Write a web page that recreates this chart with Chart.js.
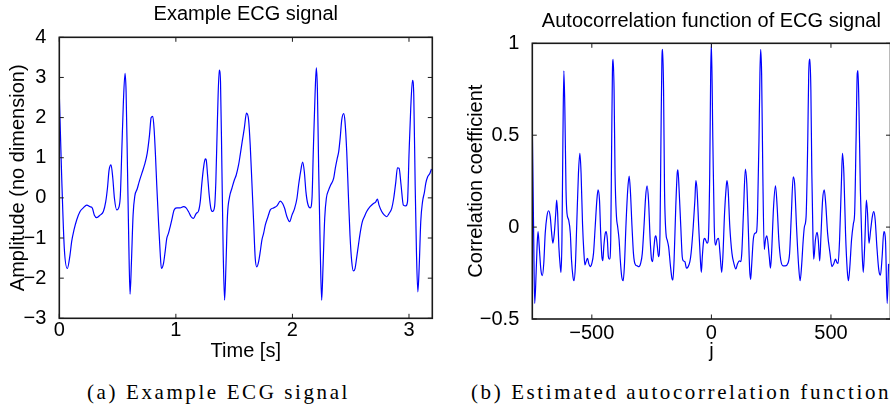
<!DOCTYPE html>
<html>
<head>
<meta charset="utf-8">
<script src="https://cdn.jsdelivr.net/npm/chart.js@4.4.1/dist/chart.umd.min.js"></script>
<style>
  html, body { margin: 0; padding: 0; background: #fff; }
  body { width: 890px; height: 410px; position: relative; overflow: hidden; }
  canvas { position: absolute; top: 0; }
  #ecgChart { left: 0; }
  #acfChart { left: 445px; }
  .caption {
    position: absolute; top: 382px; color: #000; white-space: nowrap;
    font-family: "Liberation Serif", "DejaVu Serif", serif;
    font-size: 21px; line-height: 21px; letter-spacing: 2.6px;
  }
</style>
</head>
<body>
<canvas id="ecgChart" width="445" height="370"></canvas>
<canvas id="acfChart" width="450" height="370"></canvas>
<div class="caption" style="left:87px">(a) Example ECG signal</div>
<div class="caption" style="left:471px">(b) Estimated autocorrelation function</div>
<script>
// ECG recording, time in seconds
const ecgTime = [
  0.000, 0.020, 0.043, 0.069, 0.092, 0.106, 0.126, 0.149, 0.178, 0.206,
  0.235, 0.264, 0.284, 0.301, 0.321, 0.350, 0.378, 0.398, 0.413, 0.427,
  0.444, 0.459, 0.473, 0.493, 0.513, 0.524, 0.536, 0.550, 0.564, 0.573,
  0.585, 0.596, 0.607, 0.619, 0.633, 0.648, 0.668, 0.685, 0.708, 0.731,
  0.754, 0.774, 0.788, 0.802, 0.813, 0.825, 0.836, 0.851, 0.865, 0.876,
  0.894, 0.908, 0.922, 0.937, 0.951, 0.965, 0.985, 1.008, 1.037, 1.065,
  1.088, 1.108, 1.131, 1.151, 1.174, 1.194, 1.209, 1.223, 1.237, 1.252,
  1.260, 1.272, 1.286, 1.300, 1.315, 1.332, 1.343, 1.357, 1.372, 1.383,
  1.395, 1.406, 1.418, 1.429, 1.443, 1.461, 1.481, 1.501, 1.518, 1.538,
  1.552, 1.569, 1.587, 1.606, 1.624, 1.638, 1.652, 1.667, 1.681, 1.695,
  1.710, 1.724, 1.738, 1.753, 1.767, 1.790, 1.810, 1.838, 1.867, 1.896,
  1.916, 1.933, 1.953, 1.976, 1.996, 2.019, 2.039, 2.053, 2.070, 2.088,
  2.102, 2.116, 2.131, 2.153, 2.168, 2.179, 2.194, 2.205, 2.214, 2.225,
  2.239, 2.251, 2.262, 2.277, 2.291, 2.311, 2.328, 2.354, 2.368, 2.385,
  2.397, 2.410, 2.423, 2.440, 2.451, 2.466, 2.480, 2.494, 2.509, 2.523,
  2.537, 2.552, 2.566, 2.583, 2.600, 2.617, 2.637, 2.666, 2.695, 2.715,
  2.729, 2.743, 2.766, 2.789, 2.809, 2.829, 2.852, 2.869, 2.887, 2.901,
  2.915, 2.932, 2.952, 2.973, 2.987, 3.001, 3.015, 3.030, 3.041, 3.053,
  3.064, 3.076, 3.087, 3.101, 3.116, 3.133, 3.144, 3.161, 3.179, 3.193
];
const ecgAmp = [
  2.58, 0.57, -1.26, -1.76, -1.42, -1.09, -0.80, -0.55, -0.34, -0.25,
  -0.18, -0.22, -0.26, -0.43, -0.49, -0.43, -0.34, -0.10, 0.24, 0.69,
  0.82, 0.49, -0.01, -0.30, -0.22, 0.07, 1.15, 2.40, 3.10, 2.65,
  0.74, -1.09, -2.40, -1.59, -0.43, 0.05, 0.22, 0.40, 0.61, 0.82,
  1.11, 1.57, 2.00, 2.03, 1.73, 1.07, 0.32, -0.59, -1.34, -1.76,
  -1.63, -1.34, -1.01, -0.88, -0.72, -0.55, -0.30, -0.25, -0.25, -0.22,
  -0.25, -0.34, -0.47, -0.51, -0.39, -0.33, -0.10, 0.36, 0.74, 0.97,
  0.95, 0.57, 0.07, -0.26, -0.34, -0.22, 0.40, 1.98, 3.18, 2.89,
  0.74, -1.34, -2.55, -1.76, -0.43, 0.03, 0.24, 0.44, 0.57, 0.82,
  1.07, 1.40, 1.73, 2.11, 1.94, 1.31, 0.40, -0.59, -1.51, -1.72,
  -1.59, -1.34, -1.05, -0.88, -0.68, -0.47, -0.30, -0.25, -0.20, -0.08,
  -0.14, -0.26, -0.47, -0.59, -0.43, -0.26, -0.01, 0.32, 0.65, 0.89,
  0.65, 0.15, -0.14, -0.25, -0.01, 1.15, 2.56, 3.24, 2.73, 0.74,
  -1.34, -2.55, -1.76, -0.51, -0.01, 0.20, 0.32, 0.49, 0.74, 0.99,
  1.15, 1.50, 1.94, 2.10, 1.90, 1.15, 0.07, -0.93, -1.59, -1.82,
  -1.76, -1.47, -1.18, -0.84, -0.59, -0.47, -0.34, -0.22, -0.14, -0.10,
  -0.03, -0.18, -0.34, -0.43, -0.47, -0.39, -0.26, -0.01, 0.40, 0.75,
  0.74, 0.32, -0.18, -0.20, -0.10, 1.15, 2.23, 2.93, 2.56, 0.32,
  -1.34, -2.34, -1.76, -0.59, -0.10, 0.15, 0.36, 0.53, 0.61, 0.72
];

// estimated autocorrelation, lag in samples
const acfLag = [
  -749, -743, -739, -733, -729, -725, -720, -713, -707, -701, -695, -688, -681, -674,
  -668, -663, -657, -651, -647, -643, -638, -632, -629, -625, -621, -617, -613, -608,
  -604, -597, -590, -585, -579, -575, -569, -563, -556, -550, -545, -539, -533, -529,
  -524, -518, -513, -507, -500, -493, -486, -479, -474, -468, -463, -458, -454, -450,
  -444, -440, -435, -431, -426, -421, -417, -414, -411, -407, -403, -397, -392, -386,
  -381, -375, -369, -364, -357, -350, -344, -339, -332, -326, -322, -317, -310, -303,
  -296, -289, -282, -275, -269, -263, -256, -250, -246, -240, -235, -232, -226, -221,
  -215, -211, -207, -204, -200, -196, -190, -185, -179, -171, -165, -161, -156, -149,
  -143, -140, -135, -128, -122, -117, -111, -104, -97, -90, -85, -76, -69, -65,
  -60, -53, -46, -42, -38, -32, -28, -24, -18, -13, -7, -3, 0, 6,
  12, 18, 23, 30, 36, 43, 48, 55, 62, 65, 70, 77, 86, 94,
  102, 109, 117, 123, 127, 134, 142, 148, 155, 160, 164, 168, 175, 182,
  189, 193, 199, 203, 206, 210, 215, 221, 226, 232, 242, 247, 251, 260,
  268, 275, 282, 290, 300, 309, 320, 327, 334, 342, 348, 356, 365, 371,
  377, 384, 389, 396, 403, 407, 412, 416, 420, 425, 428, 435, 442, 447,
  453, 458, 465, 472, 478, 486, 496, 504, 511, 519, 525, 530, 536, 544,
  548, 554, 561, 568, 573, 579, 586, 594, 599, 605, 610, 613, 617, 623,
  630, 635, 642, 648, 653, 659, 666, 673, 679, 685, 692, 700, 707, 714,
  721, 728, 735, 741
];
const acfCoef = [
  0.55, -0.07, -0.415, -0.25, -0.106, -0.025, -0.106, -0.233, -0.264, -0.197, -0.034, 0.057, 0.089, 0.057,
  -0.034, -0.088, -0.034, 0.075, 0.147, 0.075, -0.106, -0.215, -0.246, -0.07, 0.474, 0.85, 0.655, 0.202,
  0.075, 0.039, -0.034, -0.179, -0.27, -0.292, -0.215, 0.02, 0.293, 0.401, 0.293, 0.02, -0.143, -0.206,
  -0.188, -0.17, -0.197, -0.215, -0.197, -0.143, 0.002, 0.147, 0.202, 0.147, -0.034, -0.161, -0.182, -0.106,
  -0.034, -0.025, -0.07, -0.161, -0.175, -0.07, 0.474, 0.837, 0.913, 0.746, 0.293, 0.057, 0.002, -0.07,
  -0.179, -0.27, -0.292, -0.215, 0.02, 0.202, 0.278, 0.202, 0.002, -0.143, -0.188, -0.206, -0.211, -0.215,
  -0.197, -0.143, 0.002, 0.166, 0.224, 0.147, -0.07, -0.179, -0.188, -0.106, -0.052, -0.048, -0.106, -0.161,
  -0.034, 0.474, 0.909, 0.967, 0.746, 0.202, -0.034, -0.07, -0.106, -0.215, -0.279, -0.288, -0.179, 0.111,
  0.293, 0.311, 0.202, 0.002, -0.161, -0.184, -0.188, -0.224, -0.215, -0.188, -0.143, 0.002, 0.147, 0.253,
  0.202, 0.002, -0.179, -0.246, -0.161, -0.07, -0.061, -0.07, -0.088, -0.07, 0.293, 0.837, 1.0, 0.474,
  0.002, -0.098, -0.07, -0.061, -0.143, -0.246, -0.161, 0.075, 0.22, 0.253, 0.202, 0.002, -0.143, -0.197,
  -0.228, -0.201, -0.184, -0.188, -0.143, 0.075, 0.315, 0.238, -0.034, -0.233, -0.284, -0.215, -0.07, -0.034,
  -0.025, 0.075, 0.474, 0.837, 0.967, 0.837, 0.293, -0.121, -0.07, -0.048, -0.161, -0.224, -0.161, 0.111,
  0.224, 0.111, -0.07, -0.179, -0.211, -0.211, -0.197, -0.143, 0.057, 0.274, 0.238, 0.002, -0.215, -0.292,
  -0.215, -0.07, 0.002, 0.057, 0.474, 0.837, 0.914, 0.746, 0.293, -0.07, -0.175, -0.07, -0.029, -0.07,
  -0.184, -0.052, 0.147, 0.202, 0.129, -0.034, -0.143, -0.215, -0.201, -0.174, -0.193, -0.197, -0.07, 0.256,
  0.401, 0.293, -0.034, -0.233, -0.292, -0.215, -0.07, 0.02, 0.075, 0.474, 0.837, 0.851, 0.655, 0.202,
  -0.124, -0.246, -0.07, 0.147, 0.075, -0.088, -0.016, 0.057, 0.084, 0.039, -0.106, -0.233, -0.262, -0.161,
  -0.025, -0.07, -0.415, -0.2
];

const ecgTimeTicks = [0, 1, 2, 3];
const ecgAmpTicks = [-3, -2, -1, 0, 1, 2, 3, 4];
const acfLagTicks = [-500, 0, 500];
const acfCoefTicks = [-0.5, 0, 0.5, 1];

Chart.defaults.font.family = '"Liberation Sans", Arial, Helvetica, sans-serif';
Chart.defaults.color = '#000';

// negative numbers with a real minus sign
function fmt(v) {
  return v < 0 ? '\u2212' + String(-v) : String(v);
}

// closed axes box with short tick marks pointing inwards on every side
const boxTicks = {
  id: 'boxTicks',
  afterDatasetsDraw(chart) {
    const { ctx, chartArea: a, scales: { x, y } } = chart;
    const len = 4.5;
    ctx.save();
    ctx.strokeStyle = '#1a1a1a';
    ctx.lineWidth = 1;
    ctx.beginPath();
    x.ticks.forEach(t => {
      const px = x.getPixelForValue(t.value);
      ctx.moveTo(px, a.bottom); ctx.lineTo(px, a.bottom - len);
      ctx.moveTo(px, a.top); ctx.lineTo(px, a.top + len);
    });
    y.ticks.forEach(t => {
      const py = y.getPixelForValue(t.value);
      ctx.moveTo(a.left, py); ctx.lineTo(a.left + len, py);
      ctx.moveTo(a.right, py); ctx.lineTo(a.right - len, py);
    });
    ctx.stroke();
    ctx.lineWidth = 1.6;
    ctx.strokeRect(a.left, a.top, a.right - a.left, a.bottom - a.top);
    ctx.restore();
  }
};

function makeChart(id, cfg) {
  const points = cfg.xs.map((x, i) => ({ x: x, y: cfg.ys[i] }));
  return new Chart(document.getElementById(id), {
    type: 'line',
    data: {
      datasets: [{
        data: points,
        borderColor: '#0000ff',
        borderWidth: 1.2,
        pointRadius: 0,
        fill: false,
        cubicInterpolationMode: 'monotone'
      }]
    },
    options: {
      responsive: false,
      animation: false,
      events: [],
      layout: { padding: cfg.padding },
      plugins: {
        legend: { display: false },
        tooltip: { enabled: false },
        title: {
          display: true,
          text: cfg.title,
          fullSize: false,
          color: '#000',
          font: { size: 20, weight: 'normal' },
          padding: cfg.titlePad
        }
      },
      scales: {
        x: {
          type: 'linear',
          min: cfg.xMin,
          max: cfg.xMax,
          grid: { display: false },
          border: { display: false },
          afterBuildTicks: s => { s.ticks = cfg.xTicks.map(v => ({ value: v })); },
          afterFit: s => { s.height = cfg.xHeight; },
          ticks: { font: { size: 20 }, padding: cfg.xTickPad, maxRotation: 0, autoSkip: false, callback: v => fmt(v) },
          title: { display: true, text: cfg.xTitle, font: { size: 20 }, padding: { top: 0, bottom: 6.7 } }
        },
        y: {
          type: 'linear',
          min: cfg.yMin,
          max: cfg.yMax,
          grid: { display: false },
          border: { display: false },
          afterBuildTicks: s => { s.ticks = cfg.yTicks.map(v => ({ value: v })); },
          afterFit: s => { s.width = cfg.yWidth; },
          ticks: { font: { size: 20 }, padding: 5, autoSkip: false, callback: v => fmt(v) },
          title: { display: true, text: cfg.yTitle, font: { size: 20 }, padding: { top: cfg.yTitleTop, bottom: 0 } }
        }
      }
    },
    plugins: [boxTicks]
  });
}

makeChart('ecgChart', {
  xs: ecgTime, ys: ecgAmp,
  xMin: 0, xMax: 3.2, yMin: -3, yMax: 4,
  xTicks: ecgTimeTicks, yTicks: ecgAmpTicks,
  title: 'Example ECG signal',
  xTitle: 'Time [s]',
  yTitle: 'Amplitude (no dimension)',
  padding: { left: 0, right: 12.7, top: 0, bottom: 0 },
  titlePad: { top: 2.5, bottom: 10.8 },
  xHeight: 51.7, yWidth: 59.3, xTickPad: -8, yTitleTop: 6.8
});

makeChart('acfChart', {
  xs: acfLag, ys: acfCoef,
  xMin: -749, xMax: 749, yMin: -0.5, yMax: 1,
  xTicks: acfLagTicks, yTicks: acfCoefTicks,
  title: 'Autocorrelation function of ECG signal',
  xTitle: 'j',
  yTitle: 'Correlation coefficient',
  padding: { left: 0, right: 4.5, top: 0, bottom: 0 },
  titlePad: { top: 9.8, bottom: 9.5 },
  xHeight: 51, yWidth: 87.3, xTickPad: -6, yTitleTop: 19
});
</script>
</body>
</html>
